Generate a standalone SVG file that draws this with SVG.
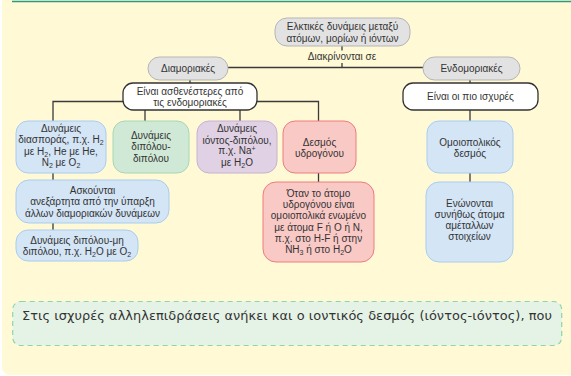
<svg xmlns="http://www.w3.org/2000/svg" width="571" height="376" viewBox="0 0 571 376">
<defs>
<style>
.t{font-family:"Liberation Sans",Arial,sans-serif;font-size:10px;fill:#333;text-anchor:middle}
.s{font-size:7px}
.c{stroke:#3a3a3a;stroke-width:1.3;fill:none}
.grey{fill:#e2e2e2;stroke:#b5b5b5;stroke-width:1}
.white{fill:#ffffff;stroke:#333;stroke-width:1.3}
.blue{fill:#d4e5f6;stroke:#a8cdef;stroke-width:1}
.green{fill:#d0e9d6;stroke:#a6d7b2;stroke-width:1}
.purple{fill:#e0d1e4;stroke:#c8b2cf;stroke-width:1}
.red{fill:#f9c9c6;stroke:#ec7c7c;stroke-width:1}
</style>
</defs>
<rect x="2" y="-10" width="580" height="385" rx="8" fill="#fff9d6"/>
<line x1="12" y1="1.5" x2="571" y2="1.5" stroke="#2a9d80" stroke-width="1.6"/>

<g id="connectors">
<line class="c" x1="342" y1="46" x2="342" y2="50.5"/>
<line class="c" x1="342" y1="63" x2="342" y2="67.5"/>
<line class="c" x1="228" y1="67.5" x2="423" y2="67.5"/>
<line class="c" x1="190" y1="80" x2="190" y2="83"/>
<line class="c" x1="470" y1="80" x2="470" y2="83"/>
<polyline class="c" points="123,101.5 53,101.5 53,121"/>
<polyline class="c" points="257,101.5 318.5,101.5 318.5,121"/>
<line class="c" x1="145" y1="110" x2="145" y2="121"/>
<line class="c" x1="240" y1="110" x2="240" y2="121"/>
<line class="c" x1="470" y1="110" x2="470" y2="121"/>
<line class="c" x1="53" y1="173" x2="53" y2="180"/>
<line class="c" x1="53" y1="223" x2="53" y2="230"/>
<line class="c" x1="318.5" y1="173" x2="318.5" y2="182"/>
<line class="c" x1="470" y1="173" x2="470" y2="182"/>
</g>

<g id="top">
<rect class="grey" x="275" y="18" width="135" height="28" rx="12"/>
<text class="t" x="342.5" y="29.5">Ελκτικές δυνάμεις μεταξύ</text>
<text class="t" x="342.5" y="41.8">ατόμων, μορίων ή ιόντων</text>
</g>
<g id="label-diakrinontai">
<text class="t" x="342" y="59.5">Διακρίνονται σε</text>
</g>
<g id="diamoriakes">
<rect class="grey" x="148" y="57" width="80" height="23" rx="11.5"/>
<text class="t" x="188" y="71.5">Διαμοριακές</text>
</g>
<g id="endomoriakes">
<rect class="grey" x="423" y="57" width="97" height="23" rx="11.5"/>
<text class="t" x="471.5" y="71.5">Ενδομοριακές</text>
</g>
<g id="astheneis">
<rect class="white" x="123" y="83" width="134" height="27" rx="10"/>
<text class="t" x="190" y="95.2">Είναι ασθενέστερες από</text>
<text class="t" x="190" y="105.8">τις ενδομοριακές</text>
</g>
<g id="isxyres">
<rect class="white" x="403" y="83" width="135" height="27" rx="10"/>
<text class="t" x="470.5" y="100.2">Είναι οι πιο ισχυρές</text>
</g>
<g id="diasporas">
<rect class="blue" x="16" y="121" width="90" height="52" rx="12"/>
<text class="t" x="61" y="131.5">Δυνάμεις</text>
<text class="t" x="61" y="143">διασποράς, π.χ. H<tspan class="s" dy="2">2</tspan></text>
<text class="t" x="61" y="154.5">με H<tspan class="s" dy="2">2</tspan><tspan dy="-2">, He με He,</tspan></text>
<text class="t" x="61" y="166">N<tspan class="s" dy="2">2</tspan><tspan dy="-2"> με O</tspan><tspan class="s" dy="2">2</tspan></text>
</g>
<g id="dipolou">
<rect class="green" x="113" y="121" width="76" height="52" rx="12"/>
<text class="t" x="151" y="138.5">Δυνάμεις</text>
<text class="t" x="151" y="150">διπόλου-</text>
<text class="t" x="151" y="161.8">διπόλου</text>
</g>
<g id="iontos">
<rect class="purple" x="197" y="121" width="80" height="52" rx="12"/>
<text class="t" x="237" y="131.8">Δυνάμεις</text>
<text class="t" x="237" y="143.5">ιόντος-διπόλου,</text>
<text class="t" x="237" y="154.2">π.χ. Na<tspan class="s" dy="-3.5">+</tspan></text>
<text class="t" x="237" y="166">με H<tspan class="s" dy="2">2</tspan><tspan dy="-2">O</tspan></text>
</g>
<g id="ydrogonou">
<rect class="red" x="283" y="121" width="73" height="52" rx="12"/>
<text class="t" x="319.5" y="145.5">Δεσμός</text>
<text class="t" x="319.5" y="157">υδρογόνου</text>
</g>
<g id="omoiopolikos">
<rect class="blue" x="427" y="121" width="86" height="52" rx="12"/>
<text class="t" x="470" y="145.5">Ομοιοπολικός</text>
<text class="t" x="470" y="157">δεσμός</text>
</g>
<g id="askountai">
<rect class="blue" x="16" y="180" width="153" height="43" rx="13"/>
<text class="t" x="92.5" y="193.5">Ασκούνται</text>
<text class="t" x="92.5" y="205">ανεξάρτητα από την ύπαρξη</text>
<text class="t" x="92.5" y="216.5">άλλων διαμοριακών δυνάμεων</text>
</g>
<g id="dipolou-mi">
<rect class="blue" x="16" y="230" width="122" height="31" rx="12"/>
<text class="t" x="77" y="243.5">Δυνάμεις διπόλου-μη</text>
<text class="t" x="77" y="255">διπόλου, π.χ. H<tspan class="s" dy="2">2</tspan><tspan dy="-2">O με O</tspan><tspan class="s" dy="2">2</tspan></text>
</g>
<g id="otan">
<rect class="red" x="263" y="182" width="111" height="80" rx="13"/>
<text class="t" x="318.5" y="197">Όταν το άτομο</text>
<text class="t" x="318.5" y="208.2">υδρογόνου είναι</text>
<text class="t" x="318.5" y="219.4">ομοιοπολικά ενωμένο</text>
<text class="t" x="318.5" y="230.6">με άτομα F ή O ή N,</text>
<text class="t" x="318.5" y="241.8">π.χ. στο H-F ή στην</text>
<text class="t" x="318.5" y="253">NH<tspan class="s" dy="2">3</tspan><tspan dy="-2"> ή στο H</tspan><tspan class="s" dy="2">2</tspan><tspan dy="-2">O</tspan></text>
</g>
<g id="enonontai">
<rect class="blue" x="426" y="182" width="87" height="80" rx="13"/>
<text class="t" x="469.5" y="206.8">Ενώνονται</text>
<text class="t" x="469.5" y="218">συνήθως άτομα</text>
<text class="t" x="469.5" y="229.2">αμέταλλων</text>
<text class="t" x="469.5" y="240.4">στοιχείων</text>
</g>
<g id="note">
<rect x="12.7" y="301.5" width="549" height="44" rx="8" fill="#e5f2e6" stroke="#8ed6a9" stroke-width="1.2" stroke-dasharray="5,4"/>
<text x="22" y="319.5" font-family="'DejaVu Sans',Verdana,sans-serif" font-size="12.9" fill="#333" textLength="530" lengthAdjust="spacing">Στις ισχυρές αλληλεπιδράσεις ανήκει και ο ιοντικός δεσμός (ιόντος-ιόντος), που</text>
</g>
</svg>
